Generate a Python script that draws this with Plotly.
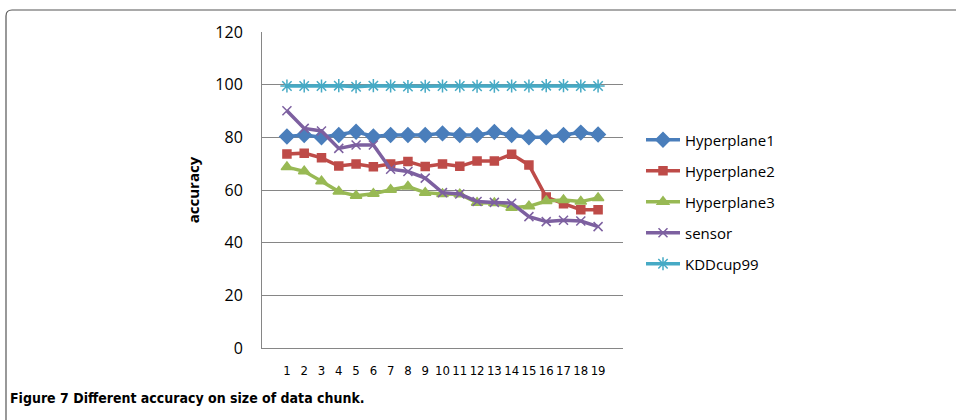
import plotly.graph_objects as go

chunks = [str(i) for i in range(1, 20)]
hyperplane1 = [80.3, 80.9, 80.0, 80.9, 82.1, 80.3, 80.9, 80.9, 80.9, 81.5, 80.9, 80.9, 82.0, 80.9, 80.0, 80.0, 80.9, 81.8, 81.1]
hyperplane2 = [73.7, 74.0, 72.2, 69.1, 69.9, 68.8, 69.9, 70.8, 68.9, 69.9, 69.0, 71.0, 71.0, 73.6, 69.5, 57.3, 54.8, 52.5, 52.5]
hyperplane3 = [68.7, 67.1, 63.3, 59.4, 57.8, 58.6, 60.1, 61.3, 59.0, 58.5, 58.4, 55.2, 55.1, 53.3, 53.8, 55.8, 56.2, 55.6, 57.0]
sensor = [90.1, 83.4, 82.4, 75.8, 77.1, 77.1, 67.9, 67.0, 64.5, 59.0, 58.5, 55.6, 55.3, 55.0, 49.9, 48.0, 48.5, 48.2, 46.1]
kddcup99 = [99.5, 99.5, 99.5, 99.6, 99.2, 99.6, 99.5, 99.3, 99.4, 99.5, 99.5, 99.4, 99.4, 99.5, 99.5, 99.6, 99.6, 99.5, 99.5]

y_ticks = [0, 20, 40, 60, 80, 100, 120]

series = [
    ("Hyperplane1", hyperplane1, "#4A7EBB", "diamond", 11),
    ("Hyperplane2", hyperplane2, "#BE4B48", "square", 8),
    ("Hyperplane3", hyperplane3, "#98B954", "triangle-up", 10),
    ("sensor", sensor, "#7D60A0", "x-thin-open", 9),
    ("KDDcup99", kddcup99, "#46AAC5", "asterisk-open", 11),
]

fig = go.Figure()
for i, (name, vals, color, sym, size) in enumerate(series):
    fig.add_trace(go.Scatter(
        x=chunks, y=vals, name=name, mode="lines+markers", legendgroup=f"g{i}",
        line=dict(color=color, width=3.5),
        marker=dict(symbol=sym, size=size, color=color,
                    line=dict(color=color, width=1.5)),
    ))

# plot area geometry (pixels)
L, R, T, B = 262, 623, 32, 348
W, H = 956, 420
pw, ph = R - L, B - T

def px(x):
    return (x - L) / pw

def py(y):
    return (B - y) / ph

frame = (f"M {px(6)},{py(420)} L {px(6)},{py(16)} Q {px(6)},{py(10)} {px(12)},{py(10)} "
         f"L {px(956)},{py(10)}")

fig.update_layout(
    width=W, height=H,
    margin=dict(l=L, r=W - R, t=T, b=H - B),
    paper_bgcolor="white", plot_bgcolor="white",
    font=dict(family="Open Sans, Liberation Sans, sans-serif", size=14, color="#000000"),
    showlegend=True,
    legend=dict(x=px(641), y=py(123.5), xanchor="left", yanchor="top",
                font=dict(size=15, family="Open Sans, Liberation Sans, sans-serif"),
                tracegroupgap=8.5, itemwidth=34, bgcolor="rgba(0,0,0,0)"),
    xaxis=dict(type="category", showgrid=False, showline=True, linecolor="#868686",
               linewidth=1, ticks="", tickfont=dict(size=13, family="DejaVu Sans Condensed, Open Sans, sans-serif"),
               ticklabelstandoff=10, fixedrange=True),
    yaxis=dict(range=[0, 120], tickvals=y_ticks, showgrid=True, gridcolor="#868686",
               gridwidth=1, showline=True, linecolor="#868686", linewidth=1, ticks="",
               zeroline=False, tickfont=dict(size=16), ticklabelstandoff=15,
               title=dict(text="<b>accuracy</b>", font=dict(size=15), standoff=12)),
    shapes=[dict(type="path", xref="paper", yref="paper", path=frame,
                 line=dict(color="#555555", width=1.2))],
    annotations=[dict(text="<b>Figure 7 Different accuracy on size of data chunk.</b>",
                      xref="paper", yref="paper", x=px(8), y=py(398),
                      xanchor="left", yanchor="middle", showarrow=False,
                      font=dict(size=14, family="DejaVu Sans Condensed, Liberation Sans, sans-serif"))],
)

fig.write_html("out.html")
